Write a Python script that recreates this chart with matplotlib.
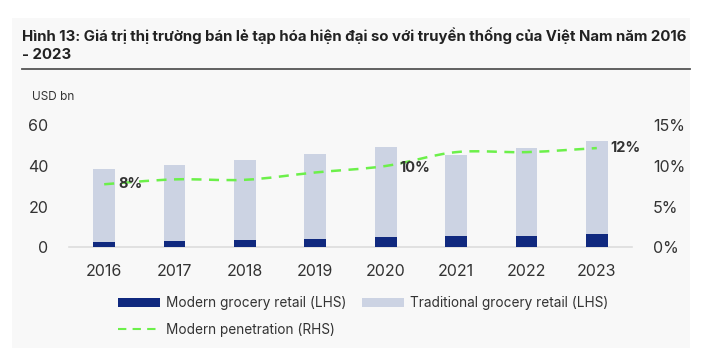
import matplotlib
matplotlib.use("Agg")
import matplotlib.pyplot as plt
from matplotlib.patches import Rectangle, PathPatch
from matplotlib.path import Path
from matplotlib.lines import Line2D
import numpy as np

plt.rcParams['font.family'] = ['Inter', 'DejaVu Sans']

years = ['2016', '2017', '2018', '2019', '2020', '2021', '2022', '2023']
modern = [2.8, 3.3, 3.4, 4.1, 4.9, 5.4, 5.7, 6.4]
total = [38.4, 40.5, 43.0, 45.9, 49.3, 45.2, 48.7, 52.1]
traditional = [t - m for t, m in zip(total, modern)]
penetration = [7.75, 8.35, 8.3, 9.2, 10.0, 11.7, 11.7, 12.2]
labels = {0: '8%', 4: '10%', 7: '12%'}
legend_labels = ['Modern grocery retail (LHS)', 'Traditional grocery retail (LHS)',
                 'Modern penetration (RHS)']

title = ("Hình 13: Giá trị thị trường bán lẻ tạp hóa hiện đại so với truyền thống của Việt Nam năm 2016\n"
         "- 2023")

W, H = 717, 356
fig = plt.figure(figsize=(W / 100, H / 100), dpi=100)
fig.patch.set_facecolor('white')
bg = Rectangle((12 / W, 1 - 348 / H), (690 - 12) / W, (348 - 18) / H,
               transform=fig.transFigure, facecolor='#f8f8f8', edgecolor='none', zorder=-10)
fig.patches.append(bg)

GREEN = '#6cf04a'
NAVY = '#10297f'
LIGHT = '#ccd3e3'
TXT = '#333333'

ax = fig.add_axes([69 / W, 1 - 247.3 / H, (632 - 69) / W, 122 / H])
ax.set_facecolor('none')
x = np.arange(len(years))
bw = 0.31
ax.bar(x, modern, bw, color=NAVY, zorder=3)
ax.bar(x, traditional, bw, bottom=modern, color=LIGHT, zorder=3)
ax.set_xlim(-0.5, 7.5)
ax.set_ylim(0, 60)
ax.set_yticks([0, 20, 40, 60])
ax.set_xticks(x)
ax.set_xticklabels(years)
for s in ['top', 'right', 'left']:
    ax.spines[s].set_visible(False)
ax.spines['bottom'].set_color('#dddddd')
ax.spines['bottom'].set_linewidth(1.2)
ax.tick_params(axis='both', length=0, labelsize=11.5, colors=TXT)
ax.tick_params(axis='y', pad=15)
ax.tick_params(axis='x', pad=12)
fig.text(32 / W, 1 - 97 / H, 'USD bn', fontsize=8.5, color=TXT, ha='left', va='center')

ax2 = ax.twinx()
ax2.set_ylim(0, 15)
ax2.set_yticks([0, 5, 10, 15])
ax2.set_yticklabels(['0%', '5%', '10%', '15%'])
for s in ax2.spines.values():
    s.set_visible(False)
ax2.tick_params(axis='y', length=0, labelsize=11.5, colors=TXT, pad=15)

# smooth (Catmull-Rom -> cubic Bezier) rendering through the data points
px = x.astype(float)
py = np.array(penetration, dtype=float)
verts = [(px[0], py[0])]
codes = [Path.MOVETO]
n = len(px)
for i in range(n - 1):
    p0 = (px[i - 1], py[i - 1]) if i > 0 else (px[i], py[i])
    p1 = (px[i], py[i])
    p2 = (px[i + 1], py[i + 1])
    p3 = (px[i + 2], py[i + 2]) if i + 2 < n else p2
    t = 1 / 6
    c1 = (p1[0] + (p2[0] - p0[0]) * t, p1[1] + (p2[1] - p0[1]) * t)
    c2 = (p2[0] - (p3[0] - p1[0]) * t, p2[1] - (p3[1] - p1[1]) * t)
    verts += [c1, c2, p2]
    codes += [Path.CURVE4] * 3
curve = PathPatch(Path(verts, codes), facecolor='none', edgecolor=GREEN, lw=1.8,
                  linestyle=(0, (4, 3)), zorder=5, transform=ax2.transData)
ax2.add_patch(curve)
for i, lab in labels.items():
    dy = -0.25 if i == 4 else 0
    ax2.annotate(lab, (px[i], py[i] + dy), xytext=(10, 0), textcoords='offset points',
                 fontsize=10.5, fontweight='bold', color=TXT, ha='left', va='center', zorder=6)

# title
tt = fig.text(22 / W, 1 - 27 / H, title, fontsize=12, fontweight='bold', color='#222222',
              ha='left', va='top', linespacing=1.35)
fig.canvas.draw()
bb = tt.get_window_extent()
tt.set_fontsize(12 * 665 / bb.width)
fig.add_artist(Line2D([22 / W, 690 / W], [1 - 68.5 / H, 1 - 68.5 / H], color='#555555', lw=1.3))

# legend (three single-entry legends placed like the reference)
h1 = Rectangle((0, 0), 1, 1, facecolor=NAVY, edgecolor='none')
h2 = Rectangle((0, 0), 1, 1, facecolor=LIGHT, edgecolor='none')
h3 = Line2D([], [], color=GREEN, lw=1.5, linestyle=(0, (4, 3)))
spots = [(118, 303), (362, 303), (118, 330)]
for h, lab, (lx, ly) in zip([h1, h2, h3], legend_labels, spots):
    lg = fig.legend([h], [lab], loc='center left', bbox_to_anchor=(lx / W, 1 - ly / H),
                    frameon=False, fontsize=9.8, handlelength=3.1, handleheight=0.6,
                    handletextpad=0.4, borderpad=0, borderaxespad=0, labelcolor=TXT)

fig.savefig('out.png', dpi=100, facecolor=fig.get_facecolor())
